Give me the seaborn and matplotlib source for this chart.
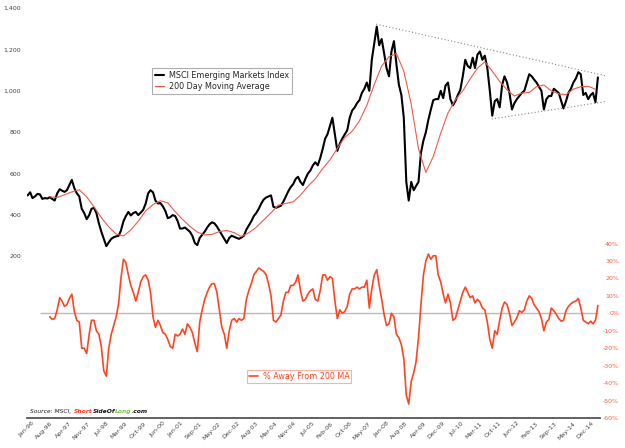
import pandas as pd
import numpy as np
import matplotlib
matplotlib.use('Agg')
import matplotlib.pyplot as plt
import matplotlib.transforms as mtransforms
from matplotlib.lines import Line2D
import seaborn as sns

# --- Data ---
# MSCI EM index, one value per month starting Jan 1996
index_start = '1996-01-01'
index_values = [
    495, 510, 482, 490, 502, 500, 478, 482, 480, 486, 478, 470,
    505, 525, 518, 512, 520, 545, 570, 530, 505, 490, 430, 410,
    380, 400, 430, 435, 410, 360, 320, 285, 250, 268, 285, 293,
    297, 300, 325, 370, 395, 415, 398, 410, 415, 400, 412, 425,
    455, 505, 520, 510, 470, 456, 458, 442, 420, 385, 390, 400,
    395, 370, 335, 335, 340, 330, 320, 300, 265, 255, 290, 305,
    320, 340, 355, 365, 360, 345, 325, 305, 285, 265, 290, 300,
    295, 290, 285, 292, 300, 330, 350, 370, 395, 410, 430, 455,
    475, 485, 490, 495, 440, 435, 440, 445, 465, 490, 515, 535,
    550, 575, 585, 560, 545, 575, 600, 615, 640, 655, 640, 675,
    720, 770, 790, 830, 870, 790, 710, 745, 770, 790, 810, 870,
    905, 920, 940, 955, 990, 1010, 1040, 1000, 1150, 1230, 1310, 1220,
    1250, 1180, 1110, 1070, 1190, 1240, 1130, 1030, 980, 870, 560, 470,
    560, 520, 540, 560, 700, 760, 800, 860, 910, 955, 960, 960,
    1000, 965, 1025, 1040, 960, 930, 950, 980, 1005, 1070, 1150, 1120,
    1110, 1160, 1110, 1175, 1190, 1150, 1170, 1110, 1000, 880, 950, 960,
    920, 1030, 1070, 1040, 990, 910, 940, 960, 975, 990, 1000, 1040,
    1080, 1070, 1055, 1040, 1020, 1000, 910, 960, 975, 975, 1010, 1000,
    990, 950, 915, 950, 990, 1010, 1040, 1060, 1090, 1080, 980, 990,
    960, 980, 990, 945, 1065,
]

# 200 day moving average, one value per quarter starting Oct 1996
ma_start = '1996-10-01'
ma_values = [
    488, 485, 498, 512, 522, 488, 440, 388, 343, 308,
    299, 328, 370, 420, 451, 469, 459, 416, 379, 346,
    318, 304, 307, 320, 326, 315, 296, 315, 341, 376,
    411, 448, 456, 464, 496, 539, 575, 625, 667, 722,
    775, 805, 855, 930, 1030, 1120, 1165, 1180, 1095, 935,
    720, 606, 683, 796, 893, 957, 1000, 1058, 1110, 1140,
    1095, 1045, 1005, 975, 989, 992, 1020, 1028, 1000, 985,
    982, 1008, 1020, 1022, 1008,
]

# % away from the 200 MA, one value per month starting Oct 1996
pct_start = '1996-10-01'
pct_values = [
    -2, -3.5, -3,
    2, 9, 7, 4, 5, 8.5, 11, 1, -4, -5, -20, -20,
    -23, -12, -4, -4, -10, -12, -19, -33, -36, -20, -12, -7,
    -2, 6, 20, 31, 29, 22, 16, 12, 7, 12, 18, 21,
    22, 19, 12, -2, -8, -4, -7, -11, -12, -15, -19, -20,
    -12, -13, -12, -9, -12, -6, -8, -11, -17, -22, -5, 2,
    8, 12, 15, 17, 17, 12, 2, -8, -12, -20, -10, -4,
    -3, -5, -3, -4, -3, 8, 13, 17, 22, 24, 26, 25,
    24, 22, 17, 10, -4, -5, -3, -1, 7, 12, 12, 16,
    16, 18, 22, 13, 7, 8, 11, 13, 14, 8, 7, 13,
    22, 22, 19, 21, 20, 7, -3, 2, 0, 1, 4, 11,
    14, 14, 15, 14, 15, 15, 19, 3, 14, 22, 25, 16,
    8, -1, -7, -6, 0, -2, -12, -14, -18, -26, -47, -52,
    -39, -34, -28, -14, 5, 22, 30, 34, 31, 33, 33, 22,
    18, 11, 6, 11, 6, -4, -3, 2, 7, 12, 15, 12,
    9, 10, 6, 8, 6.5, 3, 2, -5, -15, -20, -10, -12,
    -4, 3, 6.5, 5, 0, -7, -5, -2.5, 1.5, 0.5, 2, 7,
    10, 8.6, 5, 3, 1, -3, -10, -5, -3.5, 3, 1.5, -0.5,
    -3, -4.5, -4, 1.5, 4, 5.5, 6.5, 7, 8.5, 3, -4, -5,
    -6, -4.5, -6, -4, 4.5,
]
zero_line_start = '1996-06-01'

# dotted triangle lines
upper_trend_dates = ['2007-10-25', '2015-08-03']
upper_trend_values = [1322, 1073]
lower_trend_dates = ['2011-09-24', '2015-08-03']
lower_trend_values = [864, 948]

left_ticks = [200, 400, 600, 800, 1000, 1200, 1400]
left_labels = ['200', '400', '600', '800', '1,000', '1,200', '1,400']
right_ticks = [-60, -50, -40, -30, -20, -10, 0, 10, 20, 30, 40]
right_labels = ['-60%', '-50%', '-40%', '-30%', '-20%', '-10%', '0%', '10%', '20%', '30%', '40%']

x_labels = ['Jan-96', 'Aug-96', 'Apr-97', 'Nov-97', 'Jul-98', 'Mar-99', 'Oct-99', 'Jun-00',
            'Jan-01', 'Sep-01', 'May-02', 'Dec-02', 'Aug-03', 'Mar-04', 'Nov-04', 'Jul-05',
            'Feb-06', 'Oct-06', 'May-07', 'Jan-08', 'Aug-08', 'Apr-09', 'Dec-09', 'Jul-10',
            'Mar-11', 'Oct-11', 'Jun-12', 'Feb-13', 'Sep-13', 'May-14', 'Dec-14']
x_tick_start = '1996-01-05'
x_tick_step = '231D'

source_parts = [('Source: MSCI,', '#222222', 'normal'),
                ('Short', '#ff3b2f', 'bold'),
                ('SideOf', '#111111', 'bold'),
                ('Long', '#7cc142', 'bold'),
                ('.com', '#111111', 'bold')]

# --- Build series ---
index_dates = pd.date_range(index_start, periods=len(index_values), freq='MS')
ma_dates = pd.date_range(ma_start, periods=len(ma_values), freq='3MS')
pct_dates = pd.date_range(pct_start, periods=len(pct_values), freq='MS')
tick_dates = pd.date_range(x_tick_start, periods=len(x_labels), freq=x_tick_step)

# --- Plot ---
sns.set_style('white')
plt.rcParams['font.family'] = ['DejaVu Sans']

black = '#000000'
ma_color = '#ef5b48'
pct_color = '#ff4422'

fig = plt.figure(figsize=(6.25, 4.48), dpi=100)
ax = fig.add_axes([27 / 625, 1 - 418 / 448, 573 / 625, 410 / 448])
ax2 = ax.twinx()

sns.lineplot(x=index_dates, y=index_values, ax=ax, color=black, linewidth=1.5, legend=False)
sns.lineplot(x=ma_dates, y=ma_values, ax=ax, color=ma_color, linewidth=0.8, legend=False)
ax.plot(pd.to_datetime(upper_trend_dates), upper_trend_values, linestyle=(0, (1, 2)),
        color='#888888', linewidth=0.8, clip_on=False)
ax.plot(pd.to_datetime(lower_trend_dates), lower_trend_values, linestyle=(0, (1, 2)),
        color='#888888', linewidth=0.8, clip_on=False)

ax2.hlines(0, pd.Timestamp(zero_line_start), pct_dates[-1], color='#bbbbbb', linewidth=1.0)
sns.lineplot(x=pct_dates, y=pct_values, ax=ax2, color=pct_color, linewidth=1.2, legend=False)

ax.set_xlim(pd.Timestamp('1995-12-24'), pd.Timestamp('2015-05-27'))
ax.set_ylim(-580, 1400)
ax2.set_ylim(-60, 175)

ax.set_yticks(left_ticks)
ax.set_yticklabels(left_labels)
ax.tick_params(axis='y', length=0, pad=4.3, labelsize=4.5, labelcolor='#444444')
ax2.set_yticks(right_ticks)
ax2.set_yticklabels(right_labels)
ax2.tick_params(axis='y', length=0, pad=13.7, labelsize=4.5, labelcolor='#ff5a3c')
for lab in ax2.get_yticklabels():
    lab.set_ha('right')

ax.set_xticks(tick_dates)
ax.set_xticklabels(x_labels, rotation=45, ha='right', rotation_mode='anchor',
                   fontsize=4.5, color='#444444')
ax.tick_params(axis='x', length=0, pad=2)
offset = mtransforms.ScaledTranslation(4 / 100, 0, fig.dpi_scale_trans)
for lab in ax.get_xticklabels():
    lab.set_transform(lab.get_transform() + offset)

for a in (ax, ax2):
    a.set_xlabel('')
    a.set_ylabel('')
    for name, sp in a.spines.items():
        sp.set_visible(False)
ax.spines['bottom'].set_visible(True)
ax.spines['bottom'].set_color('#555555')
ax.spines['bottom'].set_linewidth(1.3)

leg1 = ax.legend(handles=[Line2D([], [], color=black, linewidth=1.5),
                          Line2D([], [], color=ma_color, linewidth=0.9)],
                 labels=['MSCI Emerging Markets Index', '200 Day Moving Average'],
                 loc='upper left', bbox_to_anchor=((152 - 27) / 573, 1 - (68 - 8) / 410),
                 borderaxespad=0, fontsize=5.8, frameon=True, fancybox=False,
                 edgecolor='#999999', handlelength=1.1, handletextpad=0.6,
                 labelspacing=0.2, borderpad=0.4)
leg1.get_frame().set_linewidth(0.8)

leg2 = ax2.legend(handles=[Line2D([], [], color=pct_color, linewidth=1.2)],
                  labels=['% Away From 200 MA'],
                  loc='upper left', bbox_to_anchor=((247 - 27) / 573, 1 - (370 - 8) / 410),
                  borderaxespad=0, fontsize=5.8, frameon=True, fancybox=False,
                  edgecolor='#f5a090', labelcolor=pct_color, handlelength=1.1,
                  handletextpad=0.6, borderpad=0.25)
leg2.get_frame().set_linewidth(0.8)

# multi-coloured source line
renderer = fig.canvas.get_renderer()
x_pos = 30 / 625
y_pos = 1 - 411.7 / 448
gaps = [3, 0, 0, 0, 0]
for (text, color, weight), gap in zip(source_parts, gaps):
    t = fig.text(x_pos, y_pos, text, color=color, fontsize=4.3, style='italic',
                 fontweight=weight, va='center', ha='left')
    bb = t.get_window_extent(renderer)
    x_pos = (bb.x1 + gap) / fig.bbox.width

fig.savefig('out.png', dpi=100)
